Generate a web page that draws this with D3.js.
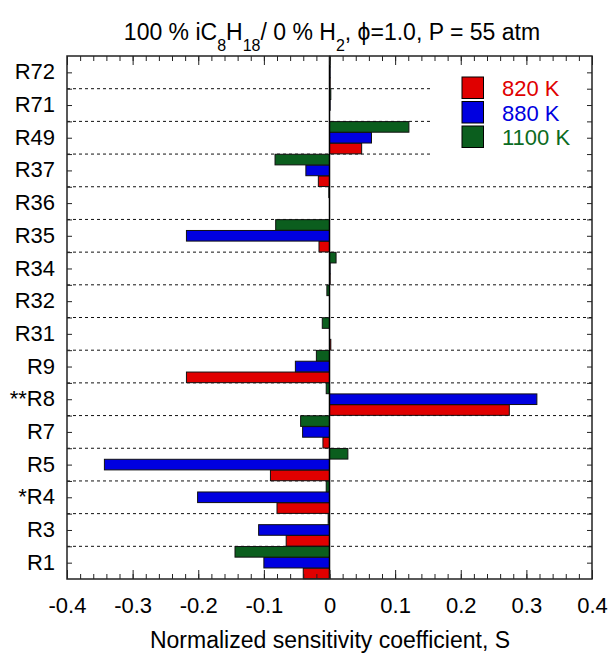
<!DOCTYPE html>
<html>
<head>
<meta charset="utf-8">
<script src="https://cdn.jsdelivr.net/npm/d3@7"></script>
<style>
  html, body { margin: 0; padding: 0; background: #fff; }
  svg { display: block; font-family: "Liberation Sans", Arial, sans-serif; }
</style>
</head>
<body>
<svg id="chart" width="611" height="654"></svg>
<script>
// Reactions, listed top to bottom
const reactions = ["R72", "R71", "R49", "R37", "R36", "R35", "R34", "R32", "R31", "R9", "**R8", "R7", "R5", "*R4", "R3", "R1"];

// Normalized sensitivity coefficients per temperature
const s820 = [0.001, 0.000, 0.049, -0.017, 0.000, -0.016, 0.001, 0.000, 0.002, -0.218, 0.274, -0.010, -0.090, -0.080, -0.066, -0.040];
const s880 = [0.001, 0.001, 0.064, -0.036, 0.000, -0.218, 0.001, 0.000, 0.000, -0.052, 0.316, -0.041, -0.343, -0.201, -0.108, -0.100];
const s1100 = [0.001, 0.002, 0.121, -0.083, -0.001, -0.082, 0.010, -0.004, -0.011, -0.020, -0.005, -0.044, 0.028, -0.005, -0.002, -0.144];

const seriesNames = ["820 K", "880 K", "1100 K"];
const seriesColors = ["#e00000", "#0000e0", "#0b5e1e"];
const legendTextColors = ["#e00000", "#0000e0", "#0b6b22"];
const xTicks = [-0.4, -0.3, -0.2, -0.1, 0, 0.1, 0.2, 0.3, 0.4];
const xTickLabels = ["-0.4", "-0.3", "-0.2", "-0.1", "0", "0.1", "0.2", "0.3", "0.4"];

const series = [
  { name: seriesNames[0], values: s820, color: seriesColors[0], text: legendTextColors[0] },
  { name: seriesNames[1], values: s880, color: seriesColors[1], text: legendTextColors[1] },
  { name: seriesNames[2], values: s1100, color: seriesColors[2], text: legendTextColors[2] }
];

const FONT = "'Liberation Sans', Arial, sans-serif";
const svg = d3.select("#chart");
const margin = { left: 67, right: 19, top: 56, bottom: 75 };
const W = 611, H = 654;
const plotW = W - margin.left - margin.right;
const plotH = H - margin.top - margin.bottom;

const x = d3.scaleLinear().domain([-0.4, 0.4]).range([margin.left, margin.left + plotW]);
const y = d3.scaleBand().domain(reactions).range([margin.top, margin.top + plotH]).paddingInner(0).paddingOuter(0);
// within each band: 1100 K on top, then 880 K, then 820 K
const inner = d3.scaleBand().domain(["1100 K", "880 K", "820 K"]).range([0, y.bandwidth()]).padding(0.02);

const g = svg.append("g");

// Dotted separators between reactions (the top three stop short of the legend)
const boundaries = reactions.slice(1).map(r => y(r));
g.selectAll("line.sep").data(boundaries).join("line")
  .attr("class", "sep")
  .attr("x1", margin.left)
  .attr("x2", (d, i) => i < 3 ? x(0.157) : margin.left + plotW)
  .attr("y1", d => d).attr("y2", d => d)
  .attr("stroke", "#111").attr("stroke-width", 1)
  .attr("stroke-dasharray", "3,3");

// Bars
series.forEach(s => {
  g.append("g").selectAll("rect").data(reactions.map((r, i) => ({ r, v: s.values[i] }))).join("rect")
    .attr("x", d => Math.min(x(0), x(d.v)))
    .attr("y", d => y(d.r) + inner(s.name))
    .attr("width", d => Math.abs(x(d.v) - x(0)))
    .attr("height", inner.bandwidth())
    .attr("fill", s.color)
    .attr("stroke", "#111")
    .attr("stroke-width", 1);
});

// Zero line
g.append("line")
  .attr("x1", x(0)).attr("x2", x(0))
  .attr("y1", margin.top).attr("y2", margin.top + plotH)
  .attr("stroke", "#000").attr("stroke-width", 1.5);

// Frame
g.append("rect")
  .attr("x", margin.left).attr("y", margin.top)
  .attr("width", plotW).attr("height", plotH)
  .attr("fill", "none").attr("stroke", "#222").attr("stroke-width", 1.5);

// X axes (bottom and top) with inward ticks
const minorX = d3.range(-0.4, 0.4001, 0.02).map(v => +v.toFixed(2));
const xBottom = d3.axisBottom(x).tickValues(minorX).tickSize(-5).tickFormat("");
const xTop = d3.axisTop(x).tickValues(minorX).tickSize(-5).tickFormat("");
const xBottomMajor = d3.axisBottom(x).tickValues(xTicks).tickSize(-9).tickPadding(18)
  .tickFormat((d, i) => xTickLabels[i]);
const xTopMajor = d3.axisTop(x).tickValues(xTicks).tickSize(-9).tickFormat("");

function styleAxis(sel) {
  sel.select(".domain").remove();
  sel.selectAll(".tick line").attr("stroke", "#222").attr("stroke-width", 1);
}
g.append("g").attr("transform", `translate(0,${margin.top + plotH})`).call(xBottom).call(styleAxis);
g.append("g").attr("transform", `translate(0,${margin.top})`).call(xTop).call(styleAxis);
const xb = g.append("g").attr("transform", `translate(0,${margin.top + plotH})`).call(xBottomMajor).call(styleAxis);
xb.selectAll(".tick text")
  .attr("font-family", FONT)
  .attr("font-size", 22).attr("fill", "#000");
g.append("g").attr("transform", `translate(0,${margin.top})`).call(xTopMajor).call(styleAxis);

// Y axes: ticks at band centres and boundaries
const yTickPos = [];
reactions.forEach(r => { yTickPos.push(y(r) + y.bandwidth() / 2); });
boundaries.forEach(b => yTickPos.push(b));
const yLin = d3.scaleLinear().domain([margin.top, margin.top + plotH]).range([margin.top, margin.top + plotH]);
g.append("g").attr("transform", `translate(${margin.left},0)`)
  .call(d3.axisLeft(yLin).tickValues(yTickPos).tickSize(-5).tickFormat("")).call(styleAxis);
g.append("g").attr("transform", `translate(${margin.left + plotW},0)`)
  .call(d3.axisRight(yLin).tickValues(yTickPos).tickSize(-5).tickFormat("")).call(styleAxis);

// Reaction labels
const yAxis = g.append("g").attr("transform", `translate(${margin.left},0)`)
  .call(d3.axisLeft(y).tickSize(0).tickPadding(12));
yAxis.select(".domain").remove();
yAxis.selectAll(".tick text")
  .attr("font-family", FONT)
  .attr("font-size", 22).attr("fill", "#000");

// Title
const title = svg.append("text")
  .attr("x", 332).attr("y", 40)
  .attr("text-anchor", "middle")
  .attr("font-size", 23).attr("fill", "#000");
title.append("tspan").text("100 % iC");
title.append("tspan").attr("font-size", 16).attr("dy", 11).text("8");
title.append("tspan").attr("dy", -11).text("H");
title.append("tspan").attr("font-size", 16).attr("dy", 11).text("18");
title.append("tspan").attr("dy", -11).text("/ 0 % H");
title.append("tspan").attr("font-size", 16).attr("dy", 11).text("2");
title.append("tspan").attr("dy", -11).text(", \u03D5=1.0, P = 55 atm");

// X axis title
svg.append("text")
  .attr("x", 330).attr("y", 648)
  .attr("text-anchor", "middle")
  .attr("font-size", 23).attr("fill", "#000")
  .text("Normalized sensitivity coefficient, S");

// Legend
const legend = svg.append("g").attr("transform", "translate(462,77)");
series.forEach((s, i) => {
  const row = legend.append("g").attr("transform", `translate(0,${i * 24.5})`);
  row.append("rect").attr("width", 21.5).attr("height", 21.5)
    .attr("fill", s.color).attr("stroke", "#000").attr("stroke-width", 1);
  row.append("text").attr("x", 40).attr("y", 19)
    .attr("font-size", 22).attr("fill", s.text).text(s.name);
});
</script>
</body>
</html>
